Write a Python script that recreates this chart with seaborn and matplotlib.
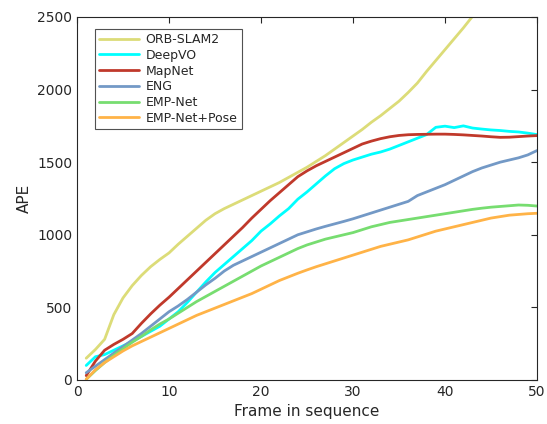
import numpy as np
import pandas as pd
import matplotlib
matplotlib.use("Agg")
import matplotlib.pyplot as plt
import seaborn as sns

frames = list(range(1, 51))

orb_slam2 = [150, 210, 280, 450, 565, 650, 720, 780, 830, 875,
             935, 990, 1045, 1100, 1145, 1180, 1210, 1240, 1270, 1300,
             1330, 1360, 1395, 1430, 1465, 1505, 1545, 1590, 1635, 1680,
             1725, 1775, 1820, 1870, 1920, 1980, 2045, 2125, 2200, 2275,
             2350, 2425, 2505, 2585, 2660, 2740, 2820, 2900, 2980, 3060]
deepvo = [100, 160, 175, 205, 235, 265, 300, 335, 370, 420,
          470, 535, 605, 675, 740, 795, 850, 905, 960, 1025,
          1075, 1130, 1180, 1245, 1295, 1350, 1405, 1455, 1490, 1515,
          1535, 1555, 1570, 1590, 1615, 1640, 1665, 1690, 1740, 1748,
          1738, 1750, 1735, 1728, 1722, 1718, 1712, 1708, 1700, 1690]
mapnet = [30, 130, 205, 245, 280, 320, 390, 455, 515, 570,
          630, 690, 750, 810, 870, 930, 990, 1050, 1115, 1175,
          1235, 1290, 1345, 1400, 1440, 1475, 1505, 1535, 1565, 1595,
          1625, 1645, 1662, 1675, 1684, 1689, 1691, 1692, 1693, 1693,
          1691, 1688, 1684, 1680, 1675, 1671, 1672, 1676, 1680, 1683]
eng = [50, 95, 140, 185, 230, 275, 320, 370, 420, 470,
       510, 555, 605, 655, 700, 750, 790, 820, 850, 880,
       910, 940, 970, 1000, 1020, 1040, 1058, 1075, 1092, 1110,
       1130, 1150, 1170, 1190, 1210, 1230, 1270, 1295, 1320, 1345,
       1375, 1405, 1435, 1460, 1480, 1500, 1515, 1530, 1550, 1580]
emp_net = [5, 65, 120, 170, 215, 260, 300, 345, 385, 420,
           460, 500, 540, 575, 610, 645, 680, 715, 750, 785,
           815, 845, 875, 905, 930, 950, 970, 985, 1000, 1015,
           1035, 1055, 1070, 1085, 1095, 1105, 1115, 1125, 1135, 1145,
           1155, 1165, 1175, 1183, 1190, 1195, 1200, 1205, 1203, 1198]
emp_net_pose = [5, 70, 120, 160, 200, 235, 265, 295, 325, 355,
                385, 415, 445, 470, 495, 520, 545, 570, 595, 625,
                655, 685, 710, 735, 758, 780, 800, 820, 840, 860,
                880, 900, 920, 935, 950, 965, 985, 1005, 1025, 1040,
                1055, 1070, 1085, 1100, 1115, 1125, 1135, 1140, 1145, 1148]

methods = ["ORB-SLAM2", "DeepVO", "MapNet", "ENG", "EMP-Net", "EMP-Net+Pose"]
colors = ["#dcdc78", "#00ffff", "#c0392b", "#7399c6", "#77dd70", "#ffb347"]
series = [orb_slam2, deepvo, mapnet, eng, emp_net, emp_net_pose]

df = pd.concat([pd.DataFrame({"Frame": frames, "APE": vals, "Method": name})
                for name, vals in zip(methods, series)], ignore_index=True)

sns.set_style("white")
plt.rcParams["font.family"] = ["DejaVu Sans"]

fig = plt.figure(figsize=(5.47, 4.24), dpi=100)
ax = fig.add_axes([0.1408, 0.1038, 0.8409, 0.8562])

sns.lineplot(data=df, x="Frame", y="APE", hue="Method", hue_order=methods,
             palette=dict(zip(methods, colors)), linewidth=2, ax=ax)

ax.set_xlim(0, 50)
ax.set_ylim(0, 2500)
ax.set_xticks([0, 10, 20, 30, 40, 50])
ax.set_yticks([0, 500, 1000, 1500, 2000, 2500])
ax.set_xlabel("Frame in sequence", fontsize=11, color="#262626")
ax.set_ylabel("APE", fontsize=11, color="#262626")
ax.tick_params(direction="in", top=True, right=True, length=4, width=0.8,
               labelsize=10, colors="#262626")
for s in ax.spines.values():
    s.set_color("#262626")
    s.set_linewidth(0.8)

# legend box sits just inside the upper left corner
leg = ax.legend(loc="upper left", bbox_to_anchor=(0.025, 0.985), fontsize=9,
                frameon=True, fancybox=False, handlelength=3.2,
                borderpad=0.35, labelspacing=0.22, handletextpad=0.5)
leg.get_frame().set_edgecolor("#262626")
leg.get_frame().set_linewidth(0.8)

fig.savefig("out.png", dpi=100)
